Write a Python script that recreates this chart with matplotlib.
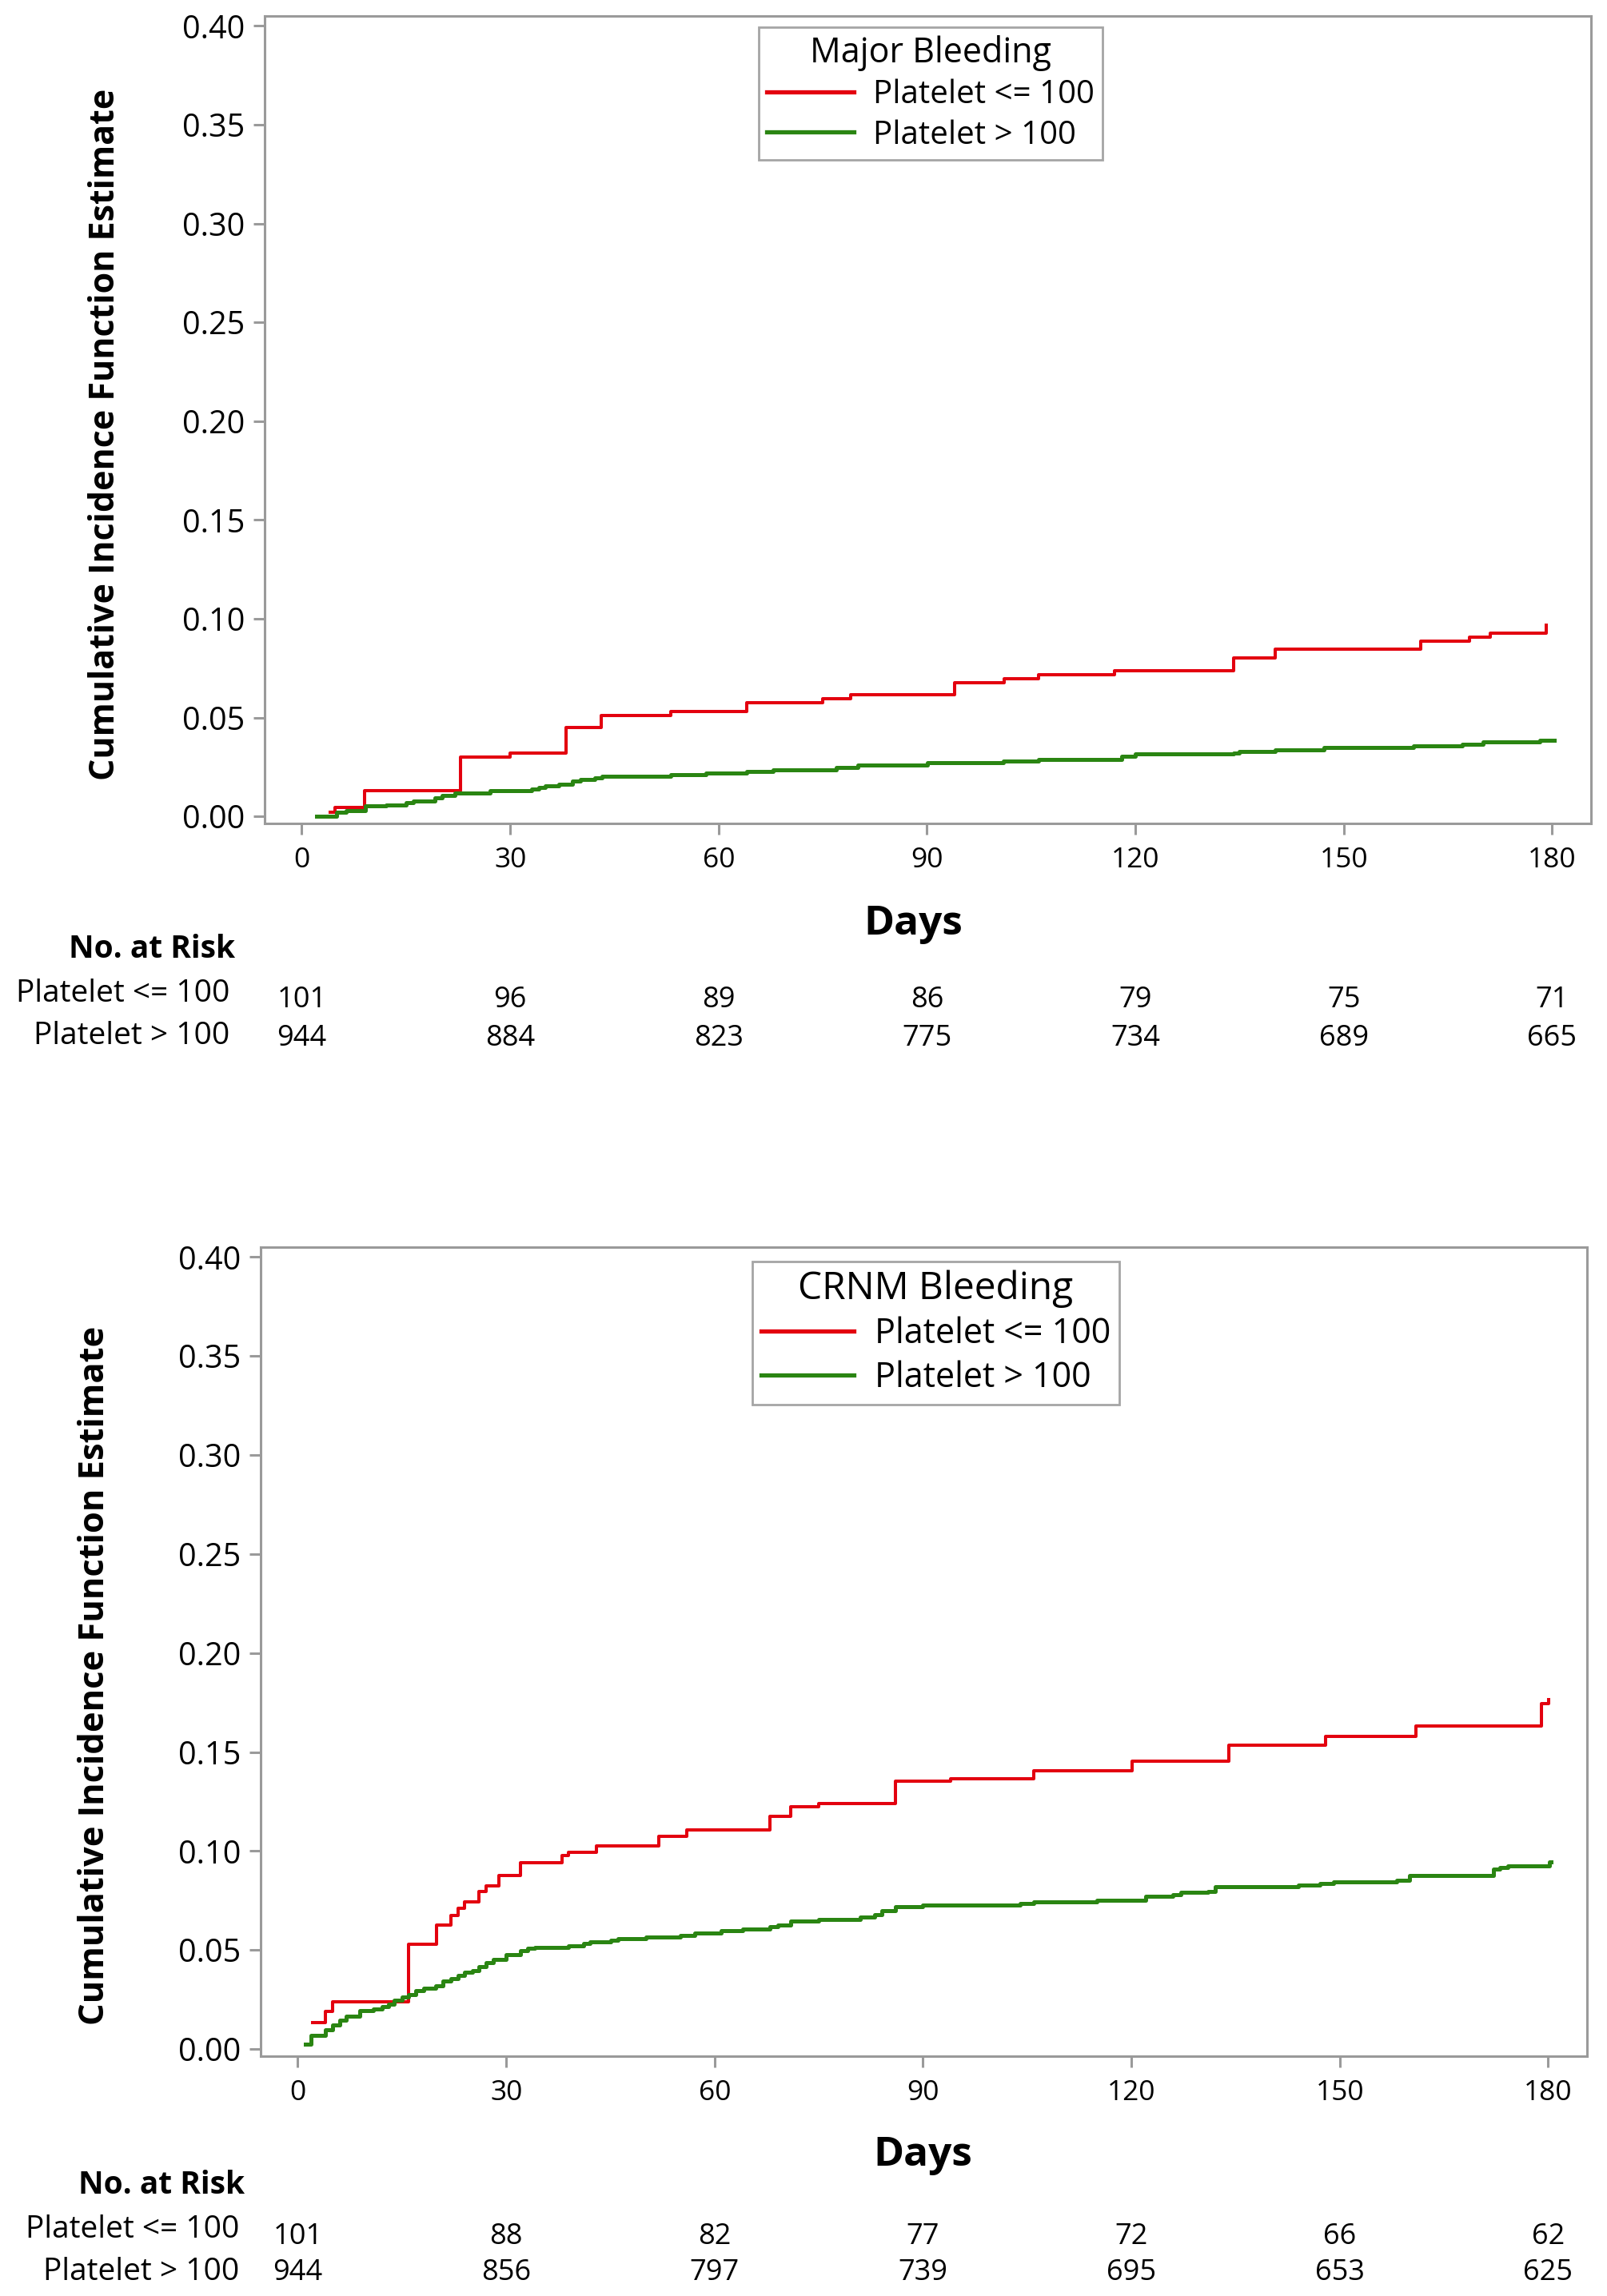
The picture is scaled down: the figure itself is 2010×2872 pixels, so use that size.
import matplotlib
matplotlib.use('Agg')
import matplotlib.pyplot as plt
from matplotlib.transforms import blended_transform_factory

plt.rcParams['font.family'] = ['Open Sans', 'DejaVu Sans']

# ---- data ----
groups = ['Platelet <= 100', 'Platelet > 100']
risk_days = [0, 30, 60, 90, 120, 150, 180]

# Major Bleeding
major_red_days = [4.1, 4.8, 9.0, 22.9, 30.0, 38.1, 43.1, 53.1, 64.0, 75.0, 79.0, 94.0,
                  101.1, 106.1, 117.0, 134.1, 140.1, 161.1, 168.1, 171.1, 179.2]
major_red_cif = [0.002, 0.0044, 0.0129, 0.0300, 0.0318, 0.0449, 0.0509, 0.0532, 0.0573,
                 0.0594, 0.0614, 0.0678, 0.0698, 0.0718, 0.0738, 0.0802, 0.0845, 0.0885,
                 0.0907, 0.0926, 0.0967]
major_green_days = [2.1, 5.05, 6.4, 9.1, 12.2, 15.0, 16.1, 19.2, 20.2, 22.0, 27.1, 33.1,
                    34.1, 35.0, 37.0, 39.0, 40.1, 42.2, 43.2, 53.1, 58.2, 64.0, 67.9, 77.0,
                    80.1, 90.1, 101.0, 106.1, 118.0, 120.0, 134.1, 135.0, 140.1, 147.1,
                    160.1, 167.1, 170.1, 178.2, 180.3]
major_green_cif = [0.0, 0.002, 0.0028, 0.0051, 0.0058, 0.0069, 0.0078, 0.0092, 0.0105,
                   0.0119, 0.0128, 0.0136, 0.0146, 0.0155, 0.0163, 0.0177, 0.0186, 0.0196,
                   0.0203, 0.0209, 0.0217, 0.0226, 0.0237, 0.0247, 0.0260, 0.0270, 0.0279,
                   0.0287, 0.0303, 0.0314, 0.0321, 0.0330, 0.0338, 0.0348, 0.0357, 0.0365,
                   0.0375, 0.0384, 0.0384]
major_risk_red = [101, 96, 89, 86, 79, 75, 71]
major_risk_green = [944, 884, 823, 775, 734, 689, 665]

# CRNM Bleeding
crnm_red_days = [2.15, 4.0, 5.0, 16.0, 20.0, 22.0, 23.1, 24.0, 26.1, 27.1, 29.0, 32.0,
                 38.1, 39.0, 43.0, 52.0, 56.0, 68.0, 71.0, 75.0, 86.0, 94.0, 106.0, 120.1,
                 134.0, 148.0, 161.0, 179.0, 180.1]
crnm_red_cif = [0.0135, 0.0189, 0.0238, 0.0528, 0.0625, 0.0675, 0.0710, 0.0742, 0.0794,
                0.0825, 0.0877, 0.0942, 0.0976, 0.0993, 0.1026, 0.1074, 0.1107, 0.1174,
                0.1223, 0.1239, 0.1352, 0.1367, 0.1404, 0.1452, 0.1533, 0.1579, 0.1630,
                0.1745, 0.1765]
crnm_green_days = [1.1, 1.9, 4.0, 5.0, 6.0, 7.0, 8.9, 10.9, 12.1, 13.1, 13.9, 15.0, 16.0,
                   17.0, 18.1, 19.9, 20.9, 22.0, 23.1, 24.0, 25.1, 26.1, 27.1, 28.1, 30.0,
                   32.0, 33.1, 34.1, 39.0, 41.1, 42.1, 45.1, 46.1, 50.1, 55.1, 57.1, 61.0,
                   64.0, 68.0, 69.1, 71.0, 75.0, 81.0, 83.1, 84.1, 86.0, 89.9, 104.0, 106.0,
                   115.1, 122.1, 126.0, 127.1, 131.0, 132.1, 144.0, 147.1, 149.1, 158.2,
                   160.0, 172.1, 173.0, 174.2, 180.2, 180.4]
crnm_green_cif = [0.0024, 0.0068, 0.0096, 0.0123, 0.0146, 0.0166, 0.0193, 0.0202, 0.0213,
                  0.0227, 0.0247, 0.0261, 0.0274, 0.0297, 0.0308, 0.0321, 0.0342, 0.0355,
                  0.0373, 0.0389, 0.0398, 0.0416, 0.0436, 0.0453, 0.0477, 0.0497, 0.0508,
                  0.0514, 0.0521, 0.0533, 0.0543, 0.0551, 0.0559, 0.0567, 0.0575, 0.0585,
                  0.0596, 0.0604, 0.0618, 0.0628, 0.0645, 0.0656, 0.0666, 0.0679, 0.0699,
                  0.0718, 0.0728, 0.0736, 0.0745, 0.0753, 0.0772, 0.0780, 0.0791, 0.0796,
                  0.0818, 0.0827, 0.0837, 0.0845, 0.0854, 0.0875, 0.0908, 0.0918, 0.0926,
                  0.0945, 0.0945]
crnm_risk_red = [101, 88, 82, 77, 72, 66, 62]
crnm_risk_green = [944, 856, 797, 739, 695, 653, 625]

RED = '#e3000f'
GREEN = '#2a8512'
GREY = '#9a9a9a'

W, H = 2010, 2872
fig = plt.figure(figsize=(W / 100, H / 100), dpi=100)


def fx(px):
    return px / W


def fy(py):
    return 1 - py / H


def panel(box, red, green, title, risk, lay):
    "one cumulative incidence panel plus its risk table; box = left, top, right, bottom in px"
    l, t, r, b = box
    ax = fig.add_axes([fx(l), fy(b), (r - l) / W, (b - t) / H])
    ax.step(red[0], red[1], where='post', color=RED, lw=2.9, label=groups[0])
    ax.step(green[0], green[1], where='post', color=GREEN, lw=3.6, label=groups[1])
    ax.set_xlim(-5.35, 185.6)
    ax.set_ylim(-0.0036, 0.405)
    ax.set_xticks(risk_days)
    ax.set_yticks([i * 0.05 for i in range(9)])
    ax.set_yticklabels(['%.2f' % (i * 0.05) for i in range(9)])
    for s in ax.spines.values():
        s.set_color(GREY)
        s.set_linewidth(2.2)
    ax.tick_params(axis='both', color=GREY, width=2.2, length=10)
    ax.tick_params(axis='y', labelsize=28.5, pad=8)
    ax.tick_params(axis='x', labelsize=25.5, pad=11)

    leg = ax.legend(title=title, loc='upper center', bbox_to_anchor=lay['leg'],
                    fontsize=lay['legfs'], title_fontsize=lay['titlefs'],
                    fancybox=False, edgecolor='#a5a5a5', framealpha=1,
                    borderpad=0.25, labelspacing=0.24, handlelength=2.7,
                    handletextpad=0.6, borderaxespad=0)
    leg.get_frame().set_linewidth(2)
    for h in leg.legend_handles:
        h.set_linewidth(3.8)

    fig.text(fx(lay['ylab'][0]), fy(lay['ylab'][1]),
             'Cumulative Incidence Function Estimate', rotation=90,
             ha='center', va='center', fontsize=lay['ylabfs'], fontweight='bold')

    tr = blended_transform_factory(ax.transData, fig.transFigure)
    ax.text(lay['days'][0], fy(lay['days'][1]), 'Days', transform=tr,
            ha='center', va='center', fontsize=37, fontweight='bold')
    fig.text(fx(lay['risk_head'][0]), fy(lay['risk_head'][1]), 'No. at Risk',
             ha='center', va='center', fontsize=28, fontweight='bold')
    for k, row in enumerate(risk):
        yy = lay['rows'][k]
        fig.text(fx(lay['row_right']), fy(yy + 3), groups[k], ha='right', va='center',
                 fontsize=28)
        for d, n in zip(risk_days, row):
            ax.text(d, fy(yy + lay['num_dy'][k]), str(n), transform=tr, ha='center',
                    va='center', fontsize=26)
    return ax


panel((331, 20, 1990, 1030),
      (major_red_days, major_red_cif), (major_green_days, major_green_cif),
      'Major Bleeding', (major_risk_red, major_risk_green),
      dict(leg=(0.502, 0.986), legfs=29, titlefs=31, ylabfs=31,
           ylab=(132, 543), days=(88, 1156), risk_head=(190, 1187),
           rows=(1240, 1293), row_right=287, num_dy=(11, 6)))

panel((326, 1560, 1985, 2572),
      (crnm_red_days, crnm_red_cif), (crnm_green_days, crnm_green_cif),
      'CRNM Bleeding', (crnm_risk_red, crnm_risk_green),
      dict(leg=(0.509, 0.982), legfs=31, titlefs=34.5, ylabfs=31.3,
           ylab=(119, 2096), days=(90, 2696), risk_head=(202, 2733),
           rows=(2786, 2839), row_right=299, num_dy=(12, 4)))

fig.savefig('out.png', dpi=100, facecolor='white')
